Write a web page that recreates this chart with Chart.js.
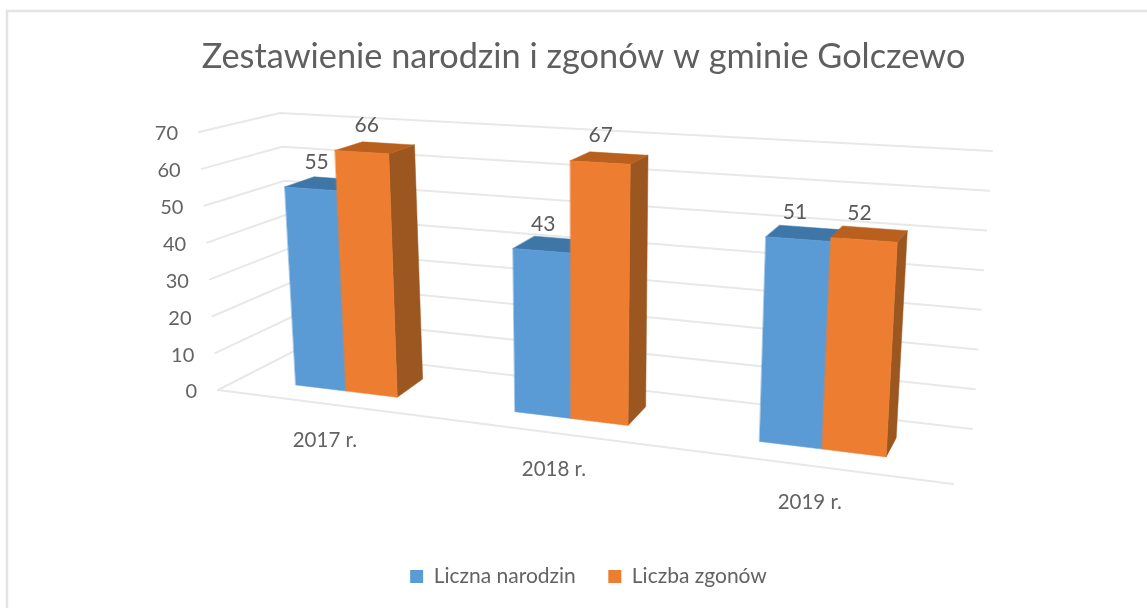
<!DOCTYPE html>
<html lang="pl">
<head>
<meta charset="utf-8">
<title>Zestawienie narodzin i zgonów w gminie Golczewo</title>
<script src="https://cdn.jsdelivr.net/npm/chart.js@4"></script>
<style>
html,body{margin:0;padding:0;background:#fff;overflow:hidden}
canvas{display:block;filter:blur(0.7px)}
</style>
</head>
<body>
<canvas id="c" width="1147" height="608"></canvas>
<script>
const categories = ['2017 r.', '2018 r.', '2019 r.'];
const births = [55, 43, 51];
const deaths = [66, 67, 52];
const titleText = 'Zestawienie narodzin i zgonów w gminie Golczewo';
const seriesNames = ['Liczna narodzin', 'Liczba zgonów'];

const TEXT = '#636363', GRID = '#e8e8e8';
const FACES = [
  {front:'#5b9bd5', top:'#3f76a8', side:'#3d6f9d'},
  {front:'#ed7d31', top:'#b9601f', side:'#9c561f'}
];
// View set-up of the perspective: planes in screen space
const FRONT = {b0:[296,385], t0:[282,133], b1:[887,457], t1:[902,168], h:1.147};
const BACK  = {b0:[325,367], t0:[311.5,125], b1:[897,438], t1:[912,159], h:1.153};
const WALL = {fl0:[218,390], fl1:[199,132], bl0:[296,350], bl1:[280,113], br0:[972,429], br1:[992,151], fr0:[953,484]};

const lerp = (a,b,t) => [a[0]+(b[0]-a[0])*t, a[1]+(b[1]-a[1])*t];
function project(pl, p, v) {
  const u = -0.106 + 1.2105*p;
  const L = lerp(pl.b0, pl.t0, v), R = lerp(pl.b1, pl.t1, v);
  const wl = (1-u)*pl.h, wr = u, s = wl+wr;
  return [(L[0]*wl+R[0]*wr)/s, (L[1]*wl+R[1]*wr)/s];
}
function poly(ctx, pts, color) {
  ctx.beginPath();
  pts.forEach((q,i)=> i?ctx.lineTo(q[0],q[1]):ctx.moveTo(q[0],q[1]));
  ctx.closePath();
  ctx.fillStyle=color; ctx.fill();
  ctx.strokeStyle=color; ctx.lineWidth=0.5; ctx.stroke();
}
const perspective3d = {
  id:'perspective3d',
  beforeDraw(chart){
    const c=chart.ctx;
    c.save();
    c.strokeStyle='#e4e4e4'; c.lineWidth=2.5;
    c.beginPath(); c.moveTo(7,608); c.lineTo(7,11); c.lineTo(1147,11); c.stroke();
    c.restore();
  },
  afterLayout(chart){
    const l=chart.legend;
    l.top-=11; l.bottom-=11; l.left+=5; l.right+=5;
  },
  beforeDatasetsDraw(chart){
    const c=chart.ctx, xs=chart.scales.x, ys=chart.scales.y;
    const pw=xs.right-xs.left, ph=ys.bottom-ys.top;
    const P=x=>(x-xs.left)/pw, V=y=>(ys.bottom-y)/ph;
    c.save();
    // wall and floor gridlines + value ticks
    c.strokeStyle=GRID; c.lineWidth=2; c.lineCap='round';
    c.font='20px Lato'; c.fillStyle=TEXT; c.textAlign='right'; c.textBaseline='middle';
    ys.ticks.forEach(t=>{
      const v=V(ys.getPixelForValue(t.value));
      const a=lerp(WALL.fl0,WALL.fl1,v), b=lerp(WALL.bl0,WALL.bl1,v), d=lerp(WALL.br0,WALL.br1,v);
      c.beginPath(); c.moveTo(a[0],a[1]); c.lineTo(b[0],b[1]); c.lineTo(d[0],d[1]); c.stroke();
      c.fillText(t.label, a[0]-21, a[1]+2);
    });
    c.beginPath(); c.moveTo(WALL.fl0[0],WALL.fl0[1]); c.lineTo(WALL.fr0[0],WALL.fr0[1]); c.stroke();
    // category labels
    c.textAlign='center';
    c.font='20.5px Lato';
    categories.forEach((lab,i)=>{
      const p=P(xs.getPixelForValue(i));
      const q=project(FRONT,p,0);
      const f=(q[0]-296)/591;
      c.fillText(lab, q[0]-22+11*f, q[1]+49+5*f);
    });
    // bars, painter's order per category
    const labels=[];
    categories.forEach((_,i)=>{
      chart.data.datasets.forEach((ds,k)=>{
        const el=chart.getDatasetMeta(k).data[i], col=FACES[k];
        const {x,y,base,width}=el.getProps(['x','y','base','width'],true);
        const p0=P(x-width/2), p1=P(x+width/2), v=V(y), vb=V(base);
        const fbl=project(FRONT,p0,vb), fbr=project(FRONT,p1,vb), ftl=project(FRONT,p0,v), ftr=project(FRONT,p1,v);
        const bbr=project(BACK,p1,vb), btl=project(BACK,p0,v), btr=project(BACK,p1,v);
        poly(c,[ftr,fbr,bbr,btr],col.side);
        poly(c,[ftl,ftr,btr,btl],col.top);
        poly(c,[ftl,ftr,fbr,fbl],col.front);
        labels.push({t:String(ds.data[i]), q:[(ftl[0]+ftr[0])/2,(ftl[1]+ftr[1])/2]});
      });
    });
    // data labels
    c.fillStyle='#5a5a5a'; c.textAlign='center'; c.font='21px Lato';
    labels.forEach(l=>{
      const f=(l.q[0]-296)/591;
      c.fillText(l.t, l.q[0]+6-11*f, l.q[1]-27);
    });
    c.restore();
    return false;
  }
};
new Chart(document.getElementById('c'),{
  type:'bar',
  data:{labels:categories,datasets:[
    {label:seriesNames[0],data:births,backgroundColor:FACES[0].front},
    {label:seriesNames[1],data:deaths,backgroundColor:FACES[1].front}
  ]},
  options:{
    responsive:false,animation:false,
    categoryPercentage:0.476,barPercentage:1,
    layout:{padding:{left:20}},
    scales:{
      x:{display:false,offset:true,grid:{display:false}},
      y:{display:false,min:0,max:70,ticks:{stepSize:10}}
    },
    plugins:{
      tooltip:{enabled:false},
      title:{display:true,text:titleText,color:'#5f5f5f',
        font:{family:'Lato',size:34.3,weight:'normal'},padding:{top:36,bottom:10}},
      legend:{position:'bottom',
        labels:{boxWidth:13,boxHeight:13,padding:32.5,color:TEXT,font:{family:'Lato',size:21}}}
    }
  },
  plugins:[perspective3d]
});
</script>
</body>
</html>
